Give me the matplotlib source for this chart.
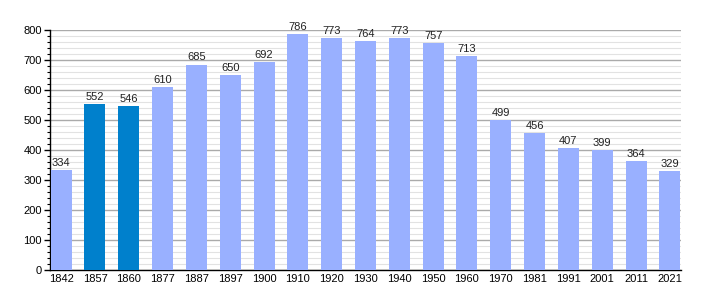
import matplotlib
matplotlib.use("Agg")
import matplotlib.pyplot as plt
from matplotlib.ticker import MultipleLocator

plt.rcParams["font.family"] = ["Liberation Sans", "DejaVu Sans"]

years = ["1842", "1857", "1860", "1877", "1887", "1897", "1900", "1910", "1920", "1930",
         "1940", "1950", "1960", "1970", "1981", "1991", "2001", "2011", "2021"]
population = [334, 552, 546, 610, 685, 650, 692, 786, 773, 764,
              773, 757, 713, 499, 456, 407, 399, 364, 329]
highlight = ["1857", "1860"]

light = "#99b0ff"
dark = "#0080cc"

fig = plt.figure(figsize=(7.10, 3.00), dpi=100)
ax = fig.add_axes([50/710, 30/300, 631/710, 240/300])

x = list(range(len(years)))
colors = [dark if y in highlight else light for y in years]
ax.bar(x, population, width=0.62, color=colors, zorder=3)

for xi, v in zip(x, population):
    ax.text(xi, v + 7, str(v), ha="center", va="bottom", fontsize=8,
            color="#222222", zorder=4)

ax.set_xlim(-0.33, len(years) - 1 + 0.33)
ax.set_ylim(0, 800)
ax.set_xticks(x)
ax.set_xticklabels(years)
ax.yaxis.set_major_locator(MultipleLocator(100))
ax.yaxis.set_minor_locator(MultipleLocator(20))
ax.grid(axis="y", which="major", color="#aaaaaa", linewidth=1.0, zorder=0)
ax.grid(axis="y", which="minor", color="#e2e2e2", linewidth=0.8, zorder=0)

for s in ["top", "right"]:
    ax.spines[s].set_visible(False)
ax.spines["left"].set_linewidth(1.0)
ax.spines["bottom"].set_linewidth(1.0)
ax.tick_params(axis="y", which="major", length=4, width=1, labelsize=8, pad=2)
ax.tick_params(axis="y", which="minor", length=2.5, width=0.8)
ax.tick_params(axis="x", length=0, labelsize=8, pad=3)

fig.savefig("out.png", dpi=100, facecolor="white")
